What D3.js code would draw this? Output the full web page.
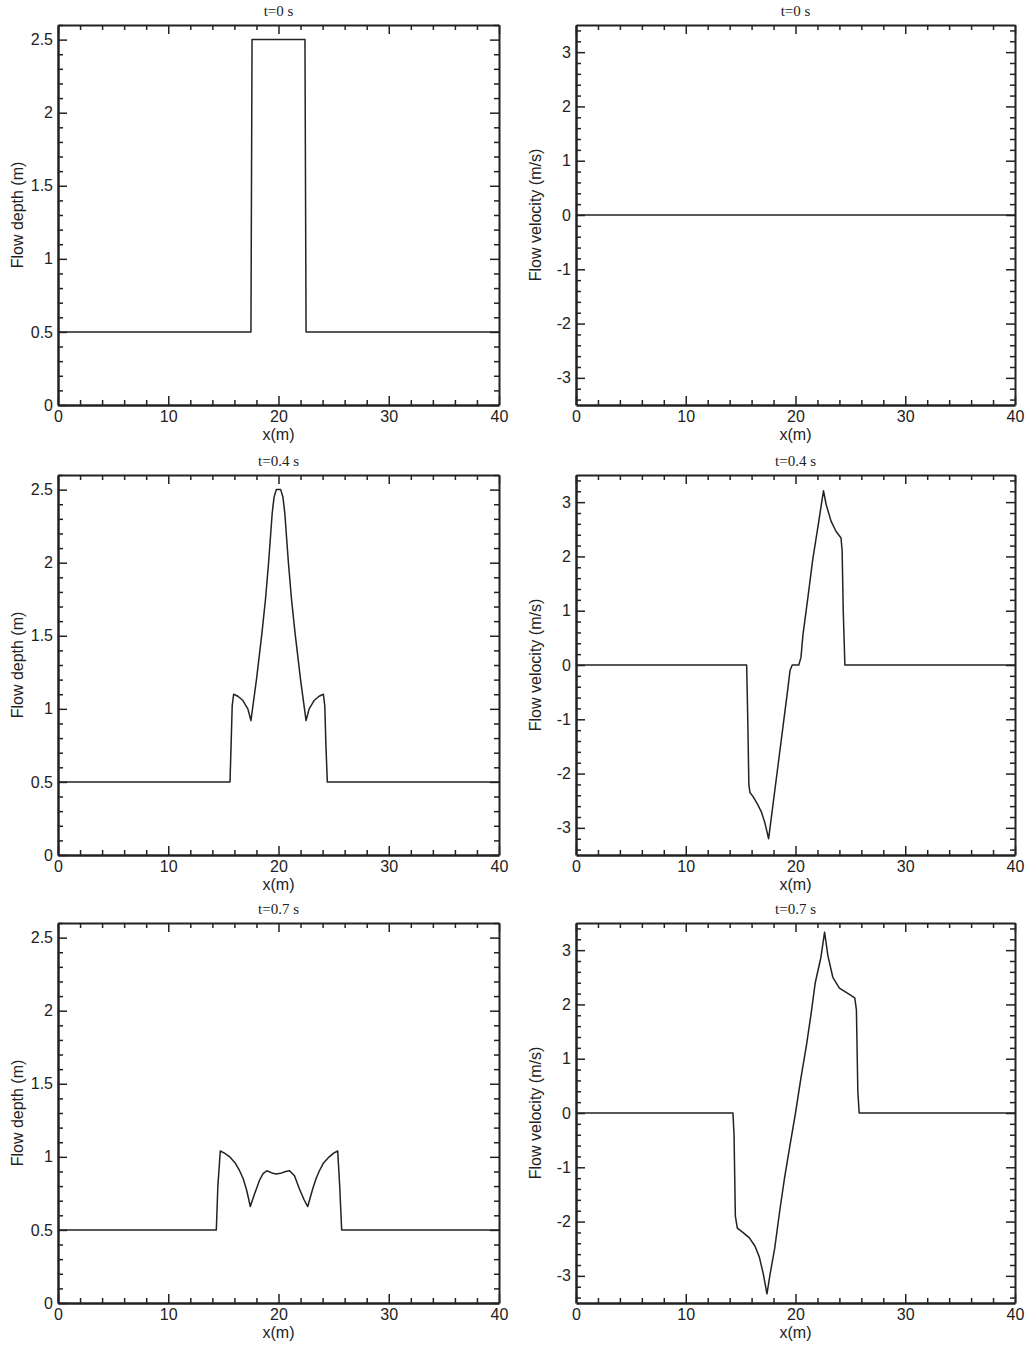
<!DOCTYPE html>
<html>
<head>
<meta charset="utf-8">
<script src="https://cdn.jsdelivr.net/npm/d3@7"></script>
<style>
  body { margin: 0; background: #fff; }
  svg { display: block; }
</style>
</head>
<body>
<svg id="chart" width="1030" height="1345"></svg>
<script>
// panel titles and axis labels
var times = ["t=0 s", "t=0.4 s", "t=0.7 s"];
var xLabel = "x(m)";
var depthLabel = "Flow depth (m)";
var velLabel = "Flow velocity (m/s)";

// tick values
var xMajor = [0, 10, 20, 30, 40];
var depthMajor = [0, 0.5, 1, 1.5, 2, 2.5];
var velMajor = [-3, -2, -1, 0, 1, 2, 3];

// flow depth (x, h)
var depth0 = [[0, 0.5], [17.5, 0.5], [17.6, 2.5], [22.4, 2.5], [22.5, 0.5], [40, 0.5]];
var depth04 = [
  [0, 0.5], [15.6, 0.5], [15.7, 0.75], [15.8, 1.02], [15.93, 1.1], [16.32, 1.086], [16.77, 1.057],
  [17.22, 1.0], [17.5, 0.92], [18.0, 1.2], [18.5, 1.52], [18.82, 1.75], [19.1, 2.0], [19.43, 2.34],
  [19.6, 2.45], [19.8, 2.5], [20.2, 2.5], [20.4, 2.45], [20.57, 2.34], [20.9, 2.0], [21.18, 1.75],
  [21.5, 1.52], [22.0, 1.2], [22.5, 0.92], [22.78, 1.0], [23.23, 1.057], [23.68, 1.086],
  [24.07, 1.1], [24.2, 1.02], [24.3, 0.75], [24.43, 0.5], [40, 0.5]
];
var depth07 = [
  [0, 0.5], [14.36, 0.5], [14.5, 0.8], [14.72, 1.04], [15.1, 1.025], [15.57, 1.0], [16.05, 0.96],
  [16.47, 0.905], [16.8, 0.85], [17.08, 0.78], [17.3, 0.71], [17.44, 0.66], [17.8, 0.74],
  [18.28, 0.84], [18.6, 0.885], [18.94, 0.905], [19.4, 0.89], [19.79, 0.883], [20.3, 0.89],
  [20.65, 0.9], [21.0, 0.905], [21.45, 0.87], [21.9, 0.78], [22.3, 0.71], [22.65, 0.66],
  [23.1, 0.78], [23.4, 0.85], [23.71, 0.905], [24.1, 0.96], [24.6, 1.0], [25.0, 1.025],
  [25.37, 1.04], [25.55, 0.8], [25.73, 0.5], [40, 0.5]
];

// flow velocity (x, u)
var vel0 = [[0, 0], [40, 0]];
var vel04 = [
  [0, 0], [15.55, 0], [15.65, -1.0], [15.75, -2.2], [15.85, -2.35], [16.12, -2.42], [16.5, -2.55],
  [16.88, -2.7], [17.2, -2.9], [17.55, -3.2], [17.9, -2.65], [18.4, -1.86], [18.9, -1.07],
  [19.3, -0.44], [19.5, -0.1], [19.7, 0], [20.3, 0], [20.5, 0.14], [20.67, 0.54], [21.1, 1.2],
  [21.57, 1.94], [22.1, 2.62], [22.55, 3.21], [22.8, 2.95], [23.24, 2.65], [23.7, 2.46],
  [24.15, 2.34], [24.25, 2.1], [24.35, 1.0], [24.5, 0], [40, 0]
];
var vel07 = [
  [0, 0], [14.3, 0], [14.4, -0.4], [14.52, -1.9], [14.7, -2.12], [15.2, -2.2], [15.8, -2.3],
  [16.3, -2.45], [16.7, -2.65], [17.05, -2.95], [17.4, -3.33], [17.7, -2.95], [18.1, -2.5],
  [18.6, -1.75], [19.0, -1.2], [19.45, -0.65], [20.0, 0], [20.5, 0.65], [21.0, 1.25],
  [21.4, 1.8], [21.8, 2.4], [22.3, 2.85], [22.65, 3.33], [22.95, 2.9], [23.4, 2.5],
  [24.0, 2.3], [24.8, 2.2], [25.4, 2.12], [25.55, 1.9], [25.68, 0.4], [25.8, 0], [40, 0]
];

var svg = d3.select("#chart");
var ink = "#222";
var sans = "'Liberation Sans', Arial, sans-serif";

var colLeft = [58, 576];
var colRight = [499, 1015];
var rowTop = [25, 475, 923];
var plotH = 380;

var drawPanel = (col, row, data, yDomain, yMajor, yMinorStep, yLabel) => {
  var left = colLeft[col];
  var right = colRight[col];
  var top = rowTop[row];
  var bottom = top + plotH;

  var x = d3.scaleLinear().domain([0, 40]).range([left, right]);
  var y = d3.scaleLinear().domain(yDomain).range([bottom, top]);

  var xMinor = d3.range(0, 40.001, 2).filter((d) => xMajor.indexOf(d) < 0);
  var yMinor = d3.range(Math.ceil(yDomain[0] / yMinorStep) * yMinorStep, yDomain[1] + 1e-6, yMinorStep)
    .map((d) => Math.round(d * 100) / 100)
    .filter((d) => yMajor.indexOf(d) < 0);

  var g = svg.append("g");

  var styleAxis = (sel, w) => {
    sel.select(".domain").attr("stroke", ink).attr("stroke-width", w);
    sel.selectAll(".tick line").attr("stroke", ink).attr("stroke-width", 1.5);
    sel.selectAll(".tick text")
      .attr("fill", ink)
      .style("font-family", sans)
      .style("font-size", "16px");
  };
  var minorAxis = (axis) => (sel) => {
    sel.call(axis.tickFormat("").tickSize(-5));
    sel.select(".domain").remove();
    sel.selectAll(".tick line").attr("stroke", ink).attr("stroke-width", 1.5);
  };

  // bottom
  g.append("g").attr("transform", "translate(0," + bottom + ")")
    .call(d3.axisBottom(x).tickValues(xMajor).tickSize(-9).tickSizeOuter(0).tickPadding(6)
      .tickFormat((d) => String(d)))
    .call((s) => styleAxis(s, 2.5));
  g.append("g").attr("transform", "translate(0," + bottom + ")")
    .call(minorAxis(d3.axisBottom(x).tickValues(xMinor)));
  // top
  g.append("g").attr("transform", "translate(0," + top + ")")
    .call(d3.axisTop(x).tickValues(xMajor).tickSize(-9).tickSizeOuter(0).tickFormat(""))
    .call((s) => styleAxis(s, 2));
  g.append("g").attr("transform", "translate(0," + top + ")")
    .call(minorAxis(d3.axisTop(x).tickValues(xMinor)));
  // left
  g.append("g").attr("transform", "translate(" + left + ",0)")
    .call(d3.axisLeft(y).tickValues(yMajor).tickSize(-9).tickSizeOuter(0).tickPadding(5)
      .tickFormat((d) => String(d)))
    .call((s) => styleAxis(s, 2.5));
  g.append("g").attr("transform", "translate(" + left + ",0)")
    .call(minorAxis(d3.axisLeft(y).tickValues(yMinor)));
  // right
  g.append("g").attr("transform", "translate(" + right + ",0)")
    .call(d3.axisRight(y).tickValues(yMajor).tickSize(-9).tickSizeOuter(0).tickFormat(""))
    .call((s) => styleAxis(s, 2));
  g.append("g").attr("transform", "translate(" + right + ",0)")
    .call(minorAxis(d3.axisRight(y).tickValues(yMinor)));

  // curve
  var line = d3.line().x((d) => x(d[0])).y((d) => y(d[1]));
  g.append("path")
    .datum(data)
    .attr("d", line)
    .attr("fill", "none")
    .attr("stroke", ink)
    .attr("stroke-width", 1.5)
    .attr("stroke-linejoin", "round");

  // title
  g.append("text")
    .attr("x", (left + right) / 2)
    .attr("y", top - 9)
    .attr("text-anchor", "middle")
    .attr("fill", ink)
    .style("font-family", "'Liberation Serif', 'Times New Roman', serif")
    .style("font-size", "15px")
    .text(times[row]);

  // x label
  g.append("text")
    .attr("x", (left + right) / 2)
    .attr("y", bottom + 35)
    .attr("text-anchor", "middle")
    .attr("fill", ink)
    .style("font-family", sans)
    .style("font-size", "16px")
    .text(xLabel);

  // y label
  g.append("text")
    .attr("transform", "translate(" + (left - 35) + "," + (top + bottom) / 2 + ") rotate(-90)")
    .attr("text-anchor", "middle")
    .attr("fill", ink)
    .style("font-family", sans)
    .style("font-size", "16px")
    .text(yLabel);
};

var depthSeries = [depth0, depth04, depth07];
var velSeries = [vel0, vel04, vel07];

for (var r = 0; r < 3; r++) {
  drawPanel(0, r, depthSeries[r], [0, 2.6], depthMajor, 0.1, depthLabel);
  drawPanel(1, r, velSeries[r], [-3.5, 3.5], velMajor, 0.2, velLabel);
}
</script>
</body>
</html>
